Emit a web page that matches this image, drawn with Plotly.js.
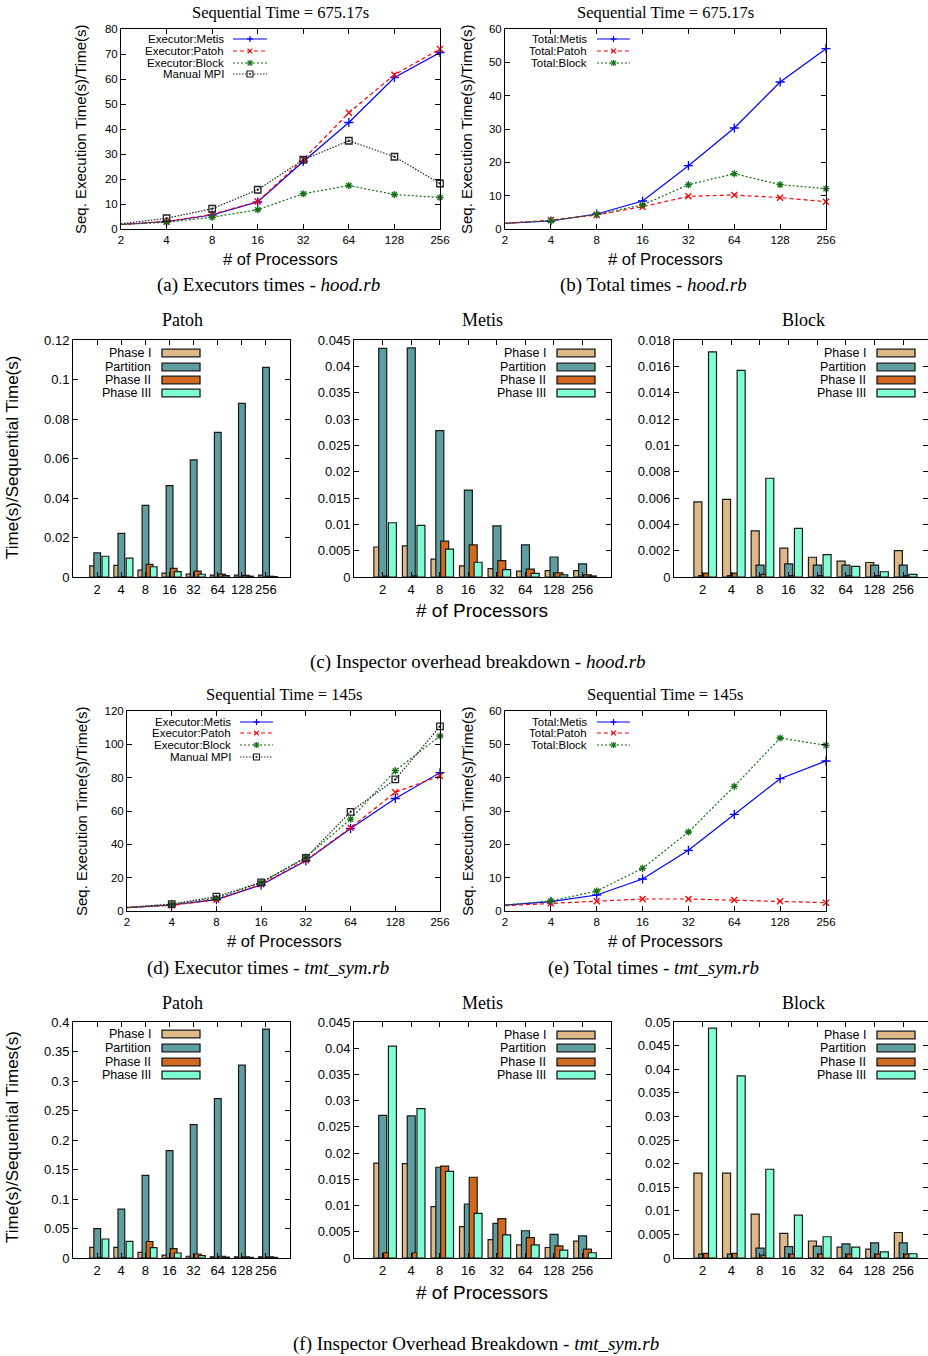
<!DOCTYPE html>
<html><head><meta charset="utf-8">
<script src="https://cdn.plot.ly/plotly-3.0.1.min.js"></script>
<style>body{margin:0;background:#fff}#chart{width:928px;height:1356px}</style>
</head><body><div id="chart"></div>
<script>
// ---------- DATA ----------
const procs = [2, 4, 8, 16, 32, 64, 128, 256];
const procLabels = ['2', '4', '8', '16', '32', '64', '128', '256'];

// (a) hood.rb executor speedups
const hoodExecMetis = [1.8, 3.0, 5.6, 10.8, 27.0, 42.6, 60.6, 70.6];
const hoodExecPatoh = [1.8, 3.0, 5.8, 11.0, 27.8, 46.5, 61.7, 72.0];
const hoodExecBlock = [1.8, 2.7, 4.7, 7.7, 14.1, 17.4, 13.8, 12.6];
const hoodManualMPI = [2.1, 4.3, 8.1, 15.7, 27.7, 35.3, 28.9, 18.2];

// (b) hood.rb total speedups
const hoodTotalMetis = [1.7, 2.4, 4.5, 8.4, 19.0, 30.3, 44.1, 54.1];
const hoodTotalPatoh = [1.7, 2.7, 4.2, 6.7, 9.8, 10.2, 9.4, 8.2];
const hoodTotalBlock = [1.7, 2.5, 4.4, 7.2, 13.3, 16.6, 13.3, 12.1];

// (c) hood.rb inspector overhead
const hoodPatohPhase1 = [0.0056, 0.0059, 0.0035, 0.0020, 0.0015, 0.0010, 0.0010, 0.0010];
const hoodPatohPartition = [0.0122, 0.0221, 0.0363, 0.0463, 0.0593, 0.0732, 0.0879, 0.1061];
const hoodPatohPhase2 = [0.0002, 0.0002, 0.0064, 0.0044, 0.0030, 0.0015, 0.0008, 0.0004];
const hoodPatohPhase3 = [0.0105, 0.0096, 0.0052, 0.0027, 0.0014, 0.0007, 0.0004, 0.0002];

const hoodMetisPhase1 = [0.0057, 0.0059, 0.0034, 0.0021, 0.0016, 0.0011, 0.0012, 0.0012];
const hoodMetisPartition = [0.0434, 0.0435, 0.0278, 0.0165, 0.0097, 0.0061, 0.0038, 0.0025];
const hoodMetisPhase2 = [0.0002, 0.0002, 0.0068, 0.0061, 0.0031, 0.0015, 0.0008, 0.0004];
const hoodMetisPhase3 = [0.0103, 0.0098, 0.0053, 0.0028, 0.0014, 0.0007, 0.0004, 0.0002];

const hoodBlockPhase1 = [0.0057, 0.0059, 0.0035, 0.0022, 0.0015, 0.0012, 0.0011, 0.0020];
const hoodBlockPartition = [0.0001, 0.0001, 0.0009, 0.0010, 0.0009, 0.0009, 0.0009, 0.0009];
const hoodBlockPhase2 = [0.0003, 0.0003, 0.0002, 0.0001, 0.0001, 0.0001, 0.0001, 0.0001];
const hoodBlockPhase3 = [0.0171, 0.0157, 0.0075, 0.0037, 0.0017, 0.0008, 0.0004, 0.0002];

// (d) tmt_sym.rb executor speedups
const tmtExecMetis = [2.0, 3.6, 6.8, 15.6, 30.1, 49.5, 67.5, 83.0];
const tmtExecPatoh = [2.0, 3.4, 6.7, 16.0, 30.5, 49.9, 71.3, 81.0];
const tmtExecBlock = [2.0, 4.0, 7.6, 17.0, 32.3, 55.1, 84.2, 105.0];
const tmtManualMPI = [2.2, 4.1, 8.6, 17.2, 31.9, 59.5, 79.0, 110.8];

// (e) tmt_sym.rb total speedups
const tmtTotalMetis = [1.8, 2.8, 4.8, 9.6, 18.2, 29.0, 39.7, 45.0];
const tmtTotalPatoh = [1.6, 2.3, 2.9, 3.6, 3.6, 3.3, 2.9, 2.5];
const tmtTotalBlock = [1.8, 3.0, 6.0, 12.8, 23.7, 37.4, 51.9, 49.7];

// (f) tmt_sym.rb inspector overhead
const tmtPatohPhase1 = [0.018, 0.018, 0.0096, 0.005, 0.003, 0.002, 0.002, 0.002];
const tmtPatohPartition = [0.0497, 0.083, 0.140, 0.182, 0.226, 0.270, 0.327, 0.388];
const tmtPatohPhase2 = [0.001, 0.001, 0.028, 0.0158, 0.0068, 0.003, 0.002, 0.002];
const tmtPatohPhase3 = [0.0322, 0.0282, 0.0175, 0.0085, 0.004, 0.0015, 0.001, 0.001];

const tmtMetisPhase1 = [0.0181, 0.0180, 0.0098, 0.0060, 0.0035, 0.0025, 0.0020, 0.0032];
const tmtMetisPartition = [0.0272, 0.0271, 0.0173, 0.0103, 0.0066, 0.0052, 0.0045, 0.0042];
const tmtMetisPhase2 = [0.0010, 0.0010, 0.0175, 0.0154, 0.0075, 0.0039, 0.0023, 0.0017];
const tmtMetisPhase3 = [0.0404, 0.0285, 0.0165, 0.0085, 0.0044, 0.0025, 0.0015, 0.0010];

const tmtBlockPhase1 = [0.0180, 0.0180, 0.0093, 0.0052, 0.0036, 0.0023, 0.0019, 0.0054];
const tmtBlockPartition = [0.0008, 0.0008, 0.0021, 0.0024, 0.0025, 0.0030, 0.0032, 0.0032];
const tmtBlockPhase2 = [0.0010, 0.0010, 0.0006, 0.0008, 0.0008, 0.0008, 0.0008, 0.0008];
const tmtBlockPhase3 = [0.0487, 0.0386, 0.0188, 0.0091, 0.0045, 0.0023, 0.0013, 0.0009];

const barNames = ['Phase I', 'Partition', 'Phase II', 'Phase III'];

// ---------- STYLE / LAYOUT HELPERS ----------
const W = 928, H = 1356;
const PX = x => x / W, PY = y => 1 - y / H;
const SANS = 'Liberation Sans, Arial, sans-serif';
const SERIF = 'Liberation Serif, Times New Roman, serif';

const lineStyles = {
  Metis: {color: '#0000ff', dash: 'solid', symbol: 'cross-thin-open', glyph: 'plus', size: 6.5},
  Patoh: {color: '#ff0000', dash: '4px,3px', symbol: 'x-thin-open', glyph: 'x', size: 6},
  Block: {color: '#157015', dash: '2px,2px', symbol: 'asterisk-open', glyph: 'star', size: 6},
  MPI:   {color: '#222222', dash: '1.5px,1.5px', symbol: 'square-open-dot', glyph: 'square', size: 6.5}
};
const barColors = ['#deb887', '#5f9ea0', '#d2691e', '#7fffd4'];
const barCenters = [-0.165, 0.005, 0.175, 0.345];
const barW = 0.28;

const traces = [];
const layout = {
  width: W, height: H, margin: {l: 0, r: 0, t: 0, b: 0},
  paper_bgcolor: '#fff', plot_bgcolor: '#fff', showlegend: false,
  barmode: 'overlay', annotations: [], shapes: []
};

function axisBase(fs) {
  return {showline: true, linecolor: '#000', linewidth: 1, mirror: 'ticks',
    ticks: 'inside', ticklen: 5, tickwidth: 1, tickcolor: '#000',
    showgrid: false, zeroline: false, fixedrange: true,
    tickfont: {family: SANS, size: fs, color: '#000'}};
}
let axN = 0;
function addAxes(b, fs, xopt, yopt) {
  axN++;
  const s = axN === 1 ? '' : String(axN);
  layout['xaxis' + s] = Object.assign(axisBase(fs), {domain: [PX(b.x0), PX(b.x1)], anchor: 'y' + s}, xopt);
  layout['yaxis' + s] = Object.assign(axisBase(fs), {domain: [PY(b.y1), PY(b.y0)], anchor: 'x' + s}, yopt);
  return {xa: 'x' + s, ya: 'y' + s};
}
function ann(text, x, y, o) {
  layout.annotations.push(Object.assign({text: text, x: PX(x), y: PY(y), xref: 'paper', yref: 'paper',
    showarrow: false, xanchor: 'center', yanchor: 'middle',
    font: {family: SANS, size: 12, color: '#000'}}, o || {}));
}
function seg(x0, y0, x1, y1, color, w, dash) {
  layout.shapes.push({type: 'line', xref: 'paper', yref: 'paper', x0: PX(x0), y0: PY(y0), x1: PX(x1), y1: PY(y1),
    line: {color: color, width: w, dash: dash || 'solid'}});
}
function glyph(kind, cx, cy, color) {
  const s = 3;
  if (kind === 'plus' || kind === 'star') { seg(cx - s, cy, cx + s, cy, color, 1.2); seg(cx, cy - s, cx, cy + s, color, 1.2); }
  if (kind === 'x' || kind === 'star') { seg(cx - s * 0.8, cy - s * 0.8, cx + s * 0.8, cy + s * 0.8, color, 1.2); seg(cx - s * 0.8, cy + s * 0.8, cx + s * 0.8, cy - s * 0.8, color, 1.2); }
  if (kind === 'square') {
    layout.shapes.push({type: 'rect', xref: 'paper', yref: 'paper', x0: PX(cx - 3), x1: PX(cx + 3), y0: PY(cy + 3), y1: PY(cy - 3),
      fillcolor: '#fff', line: {color: color, width: 1.2}});
    layout.shapes.push({type: 'rect', xref: 'paper', yref: 'paper', x0: PX(cx - 0.7), x1: PX(cx + 0.7), y0: PY(cy + 0.7), y1: PY(cy - 0.7),
      fillcolor: color, line: {color: color, width: 0.5}});
  }
}

function linePanel(b, ymax, dtick, series, leg) {
  const ax = addAxes(b, 11.5,
    {type: 'log', range: [Math.log10(procs[0]), Math.log10(procs[procs.length - 1])], tickmode: 'array', tickvals: procs, ticktext: procLabels},
    {range: [0, ymax], dtick: dtick, tick0: 0});
  series.forEach(s => {
    const st = lineStyles[s.style];
    traces.push({type: 'scatter', mode: 'lines+markers', x: procs, y: s.y, name: s.name,
      xaxis: ax.xa, yaxis: ax.ya, cliponaxis: false,
      line: {color: st.color, dash: st.dash, width: 1.2},
      marker: {symbol: st.symbol, size: st.size, color: st.color, line: {color: st.color, width: 1.3}}});
  });
  series.forEach((s, i) => {
    const st = lineStyles[s.style];
    const y = leg.ys[i];
    ann(s.name, leg.tx, y, {xanchor: 'right', font: {family: SANS, size: 11.5, color: '#000'}});
    seg(leg.s0, y, leg.s1, y, st.color, 1.2, st.dash);
    glyph(st.glyph, (leg.s0 + leg.s1) / 2, y, st.color);
  });
}

function barPanel(b, xmax, ymax, dtick, series, leg) {
  const ax = addAxes(b, 13,
    {type: 'category', range: [-1, xmax], categoryorder: 'array', categoryarray: procLabels},
    {range: [0, ymax], dtick: dtick, tick0: 0});
  series.forEach((vals, i) => {
    traces.push({type: 'bar', x: procLabels, y: vals, name: barNames[i], xaxis: ax.xa, yaxis: ax.ya,
      width: barW, offset: barCenters[i] - barW / 2,
      marker: {color: barColors[i], line: {color: '#1a1a1a', width: 1.2}}});
  });
  barNames.forEach((n, i) => {
    const y = leg.ys[i];
    ann(n, leg.tx, y, {xanchor: 'right', font: {family: SANS, size: 12.5, color: '#000'}});
    layout.shapes.push({type: 'rect', xref: 'paper', yref: 'paper', x0: PX(leg.r0), x1: PX(leg.r1),
      y0: PY(y + 3.8), y1: PY(y - 3.8), fillcolor: barColors[i], line: {color: '#1a1a1a', width: 1.3}});
  });
}

// ---------- PANELS ----------
// (a)
linePanel({x0: 121, x1: 440, y0: 29, y1: 229}, 80, 10, [
  {name: 'Executor:Metis', y: hoodExecMetis, style: 'Metis'},
  {name: 'Executor:Patoh', y: hoodExecPatoh, style: 'Patoh'},
  {name: 'Executor:Block', y: hoodExecBlock, style: 'Block'},
  {name: 'Manual MPI', y: hoodManualMPI, style: 'MPI'}
], {tx: 226, s0: 233, s1: 267, ys: [39, 51, 63, 74]});
// (b)
linePanel({x0: 505, x1: 826, y0: 29, y1: 229}, 60, 10, [
  {name: 'Total:Metis', y: hoodTotalMetis, style: 'Metis'},
  {name: 'Total:Patoh', y: hoodTotalPatoh, style: 'Patoh'},
  {name: 'Total:Block', y: hoodTotalBlock, style: 'Block'}
], {tx: 589, s0: 597, s1: 630, ys: [39, 51, 63]});
// (c)
barPanel({x0: 73, x1: 290, y0: 340, y1: 577}, 8, 0.12, 0.02,
  [hoodPatohPhase1, hoodPatohPartition, hoodPatohPhase2, hoodPatohPhase3],
  {tx: 153, r0: 162, r1: 200, ys: [353, 367, 380, 393]});
barPanel({x0: 354, x1: 611, y0: 340, y1: 577}, 8, 0.045, 0.005,
  [hoodMetisPhase1, hoodMetisPartition, hoodMetisPhase2, hoodMetisPhase3],
  {tx: 548, r0: 557, r1: 595, ys: [353, 367, 380, 393]});
barPanel({x0: 674, x1: 928, y0: 340, y1: 577}, 7.87, 0.018, 0.002,
  [hoodBlockPhase1, hoodBlockPartition, hoodBlockPhase2, hoodBlockPhase3],
  {tx: 868, r0: 877, r1: 915, ys: [353, 367, 380, 393]});
// (d)
linePanel({x0: 127, x1: 440, y0: 711, y1: 911}, 120, 20, [
  {name: 'Executor:Metis', y: tmtExecMetis, style: 'Metis'},
  {name: 'Executor:Patoh', y: tmtExecPatoh, style: 'Patoh'},
  {name: 'Executor:Block', y: tmtExecBlock, style: 'Block'},
  {name: 'Manual MPI', y: tmtManualMPI, style: 'MPI'}
], {tx: 233, s0: 240, s1: 273, ys: [722, 733, 745, 757]});
// (e)
linePanel({x0: 505, x1: 826, y0: 711, y1: 911}, 60, 10, [
  {name: 'Total:Metis', y: tmtTotalMetis, style: 'Metis'},
  {name: 'Total:Patoh', y: tmtTotalPatoh, style: 'Patoh'},
  {name: 'Total:Block', y: tmtTotalBlock, style: 'Block'}
], {tx: 589, s0: 597, s1: 630, ys: [722, 733, 745]});
// (f)
barPanel({x0: 73, x1: 290, y0: 1022, y1: 1258}, 8, 0.4, 0.05,
  [tmtPatohPhase1, tmtPatohPartition, tmtPatohPhase2, tmtPatohPhase3],
  {tx: 153, r0: 162, r1: 200, ys: [1034, 1048, 1062, 1075]});
barPanel({x0: 354, x1: 611, y0: 1022, y1: 1258}, 8, 0.045, 0.005,
  [tmtMetisPhase1, tmtMetisPartition, tmtMetisPhase2, tmtMetisPhase3],
  {tx: 548, r0: 557, r1: 595, ys: [1035, 1048, 1062, 1075]});
barPanel({x0: 674, x1: 928, y0: 1022, y1: 1258}, 7.87, 0.05, 0.005,
  [tmtBlockPhase1, tmtBlockPartition, tmtBlockPhase2, tmtBlockPhase3],
  {tx: 868, r0: 877, r1: 915, ys: [1035, 1048, 1062, 1075]});

// ---------- TEXTS ----------
const serif = (s) => ({family: SERIF, size: s, color: '#000'});
const sans = (s) => ({family: SANS, size: s, color: '#000'});
// titles
ann('Sequential Time = 675.17s', 280, 12, {font: serif(16.5)});
ann('Sequential Time = 675.17s', 665, 12, {font: serif(16.5)});
ann('Sequential Time = 145s', 284, 694, {font: serif(16.5)});
ann('Sequential Time = 145s', 665, 694, {font: serif(16.5)});
['Patoh', 'Metis', 'Block'].forEach((t, i) => {
  ann(t, [182, 482, 803][i], 320, {font: serif(18)});
  ann(t, [182, 482, 803][i], 1003, {font: serif(18)});
});
// axis titles
ann('Seq. Execution Time(s)/Time(s)', 81, 129, {textangle: -90, font: sans(15)});
ann('Seq. Execution Time(s)/Time(s)', 467, 129, {textangle: -90, font: sans(15)});
ann('Seq. Execution Time(s)/Time(s)', 81, 811, {textangle: -90, font: sans(15)});
ann('Seq. Execution Time(s)/Time(s)', 467, 811, {textangle: -90, font: sans(15)});
ann('# of Processors', 280, 259, {font: sans(16.5)});
ann('# of Processors', 665, 259, {font: sans(16.5)});
ann('# of Processors', 284, 941, {font: sans(16.5)});
ann('# of Processors', 665, 941, {font: sans(16.5)});
ann('Time(s)/Sequential Time(s)', 12, 458, {textangle: -90, font: sans(17)});
ann('Time(s)/Sequential Times(s)', 12, 1137, {textangle: -90, font: sans(17)});
ann('# of Processors', 482, 610, {font: sans(19)});
ann('# of Processors', 482, 1292, {font: sans(19)});
// captions
ann('(a) Executors times - <i>hood.rb</i>', 268, 285, {font: serif(19)});
ann('(b) Total times - <i>hood.rb</i>', 653, 285, {font: serif(19)});
ann('(c) Inspector overhead breakdown - <i>hood.rb</i>', 478, 662, {font: serif(19)});
ann('(d) Executor times - <i>tmt_sym.rb</i>', 268, 968, {font: serif(19)});
ann('(e) Total times - <i>tmt_sym.rb</i>', 653, 968, {font: serif(19)});
ann('(f) Inspector Overhead Breakdown - <i>tmt_sym.rb</i>', 476, 1344, {font: serif(19)});

Plotly.newPlot('chart', traces, layout, {staticPlot: true, displayModeBar: false});
</script>
</body></html>
